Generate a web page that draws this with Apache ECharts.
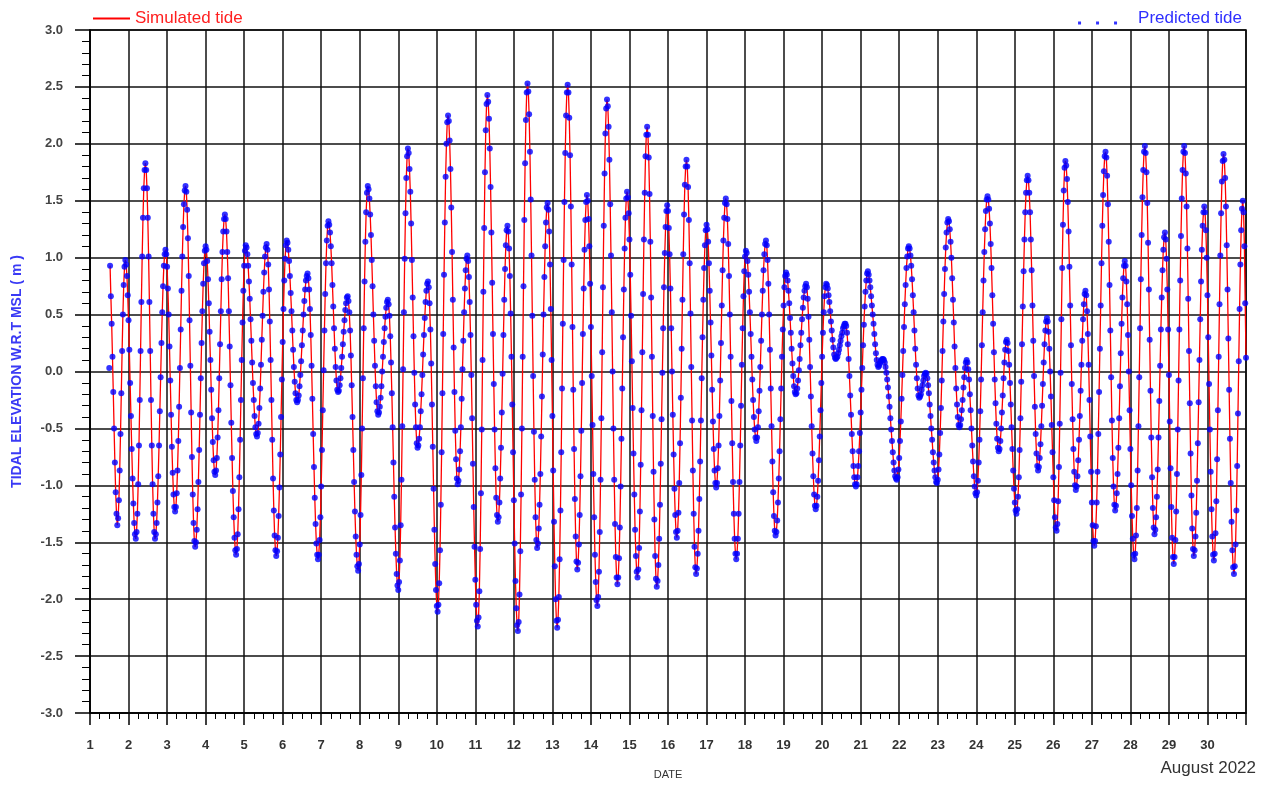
<!DOCTYPE html>
<html><head><meta charset="utf-8">
<script src="https://cdn.jsdelivr.net/npm/echarts@6/dist/echarts.min.js"></script>
<style>html,body{margin:0;padding:0;background:#fff}#c{width:1274px;height:785px}</style>
</head><body><div id="c"></div>
<script>
// time base: first sample Aug 1 12:00, half-hourly samples (x axis = day of August 2022)
const startDay = 1.5;
const stepDays = 1 / 48;
const dayTicks = [1,2,3,4,5,6,7,8,9,10,11,12,13,14,15,16,17,18,19,20,21,22,23,24,25,26,27,28,29,30];

// tidal elevation (m, w.r.t. MSL), consecutive half-hourly samples
const tideSeg01 = [0.03,
0.93,0.66,0.42,0.13,-0.18,-0.50,-0.80,-1.06,-1.25,-1.35,
-1.29,-1.13,-0.87,-0.55,-0.19,0.18,0.50,0.76,0.92,0.98,
0.94,0.84,0.67,0.45,0.19,-0.10,-0.39,-0.68,-0.94,-1.16,-1.33,-1.43,-1.47,
-1.41,-1.25,-0.99,-0.65,-0.25,0.18,0.61,1.01,1.35,1.61,1.77,1.83,
1.77,1.61,1.35,1.01,0.61,0.18,-0.25,-0.65,-0.99,-1.25,-1.41,-1.47,
-1.43,-1.33,-1.15,-0.92,-0.65,-0.35,-0.05,0.25,0.52,0.75,0.93,1.03,1.07,
1.03,0.92,0.73,0.50,0.22,-0.08,-0.38,-0.66,-0.89,-1.08,-1.19,-1.23,
-1.19,-1.07,-0.87,-0.61,-0.31,0.03,0.37,0.71,1.01,1.27,1.47,1.59,1.63,
1.58,1.42,1.17,0.84,0.45,0.05,-0.36,-0.75,-1.08,-1.33,-1.49,-1.54,
-1.50,-1.39,-1.21,-0.97,-0.69,-0.38,-0.06,0.25,0.53,0.77,0.95,1.06,1.10];
const tideSeg02 = [1.07,0.97,0.81,0.60,0.35,0.10,-0.16,-0.41,-0.62,-0.78,-0.88,-0.91,
-0.87,-0.76,-0.58,-0.34,-0.06,0.24,0.53,0.81,1.05,1.23,1.34,1.38,
1.34,1.23,1.05,0.82,0.53,0.22,-0.12,-0.45,-0.76,-1.05,-1.28,-1.46,-1.57,-1.61,
-1.56,-1.43,-1.21,-0.93,-0.60,-0.25,0.10,0.43,0.71,0.93,1.06,1.11,
1.09,1.03,0.93,0.79,0.64,0.46,0.27,0.08,-0.10,-0.25,-0.39,-0.49,-0.55,-0.57,
-0.54,-0.46,-0.32,-0.15,0.06,0.28,0.49,0.70,0.87,1.01,1.09,1.12,
1.07,0.94,0.72,0.44,0.10,-0.25,-0.60,-0.94,-1.22,-1.44,-1.57,-1.62,
-1.58,-1.46,-1.27,-1.02,-0.73,-0.40,-0.07,0.26,0.55,0.80,0.99,1.11,1.15,
1.13,1.07,0.97,0.84,0.69,0.53,0.36,0.19,0.04,-0.09,-0.19,-0.25,-0.27,
-0.25,-0.21,-0.13,-0.03,0.09,0.23,0.36,0.50,0.62,0.72,0.80,0.84,0.86];
const tideSeg03 = [0.82,0.72,0.55,0.32,0.05,-0.24,-0.55,-0.84,-1.11,-1.34,-1.51,-1.61,-1.65,
-1.61,-1.48,-1.28,-1.01,-0.69,-0.34,0.01,0.36,0.68,0.95,1.15,1.28,1.32,
1.29,1.22,1.10,0.95,0.76,0.57,0.38,0.20,0.04,-0.08,-0.16,-0.18,
-0.17,-0.12,-0.06,0.03,0.13,0.24,0.35,0.45,0.54,0.60,0.65,0.66,
0.62,0.52,0.36,0.14,-0.12,-0.40,-0.69,-0.97,-1.23,-1.45,-1.61,-1.71,-1.75,
-1.69,-1.52,-1.26,-0.91,-0.50,-0.06,0.38,0.79,1.14,1.40,1.57,1.63,
1.60,1.52,1.38,1.20,0.98,0.75,0.50,0.27,0.05,-0.13,-0.27,-0.35,-0.38,
-0.36,-0.31,-0.23,-0.13,0.00,0.13,0.26,0.38,0.48,0.56,0.61,0.63,
0.59,0.49,0.31,0.08,-0.19,-0.49,-0.80,-1.10,-1.37,-1.60,-1.78,-1.88,-1.92,
-1.85,-1.66,-1.35,-0.95,-0.48,0.02,0.52,0.99,1.39,1.70,1.89,1.96];
const tideSeg04 = [1.92,1.78,1.58,1.30,0.98,0.65,0.31,-0.01,-0.29,-0.49,-0.63,-0.67,
-0.65,-0.59,-0.49,-0.35,-0.20,-0.03,0.15,0.32,0.47,0.61,0.71,0.77,0.79,
0.74,0.60,0.37,0.07,-0.29,-0.66,-1.03,-1.39,-1.69,-1.92,-2.06,-2.11,
-2.05,-1.86,-1.57,-1.17,-0.71,-0.19,0.33,0.85,1.31,1.71,2.00,2.19,2.25,
2.20,2.03,1.78,1.44,1.05,0.63,0.21,-0.18,-0.52,-0.77,-0.94,-0.99,
-0.96,-0.86,-0.70,-0.49,-0.24,0.02,0.27,0.52,0.73,0.89,0.99,1.02,
0.97,0.83,0.61,0.32,-0.03,-0.41,-0.81,-1.19,-1.54,-1.83,-2.05,-2.19,-2.24,
-2.16,-1.93,-1.56,-1.07,-0.51,0.10,0.70,1.26,1.75,2.12,2.35,2.43,
2.37,2.22,1.96,1.62,1.22,0.78,0.33,-0.11,-0.51,-0.85,-1.11,-1.26,-1.32,
-1.28,-1.15,-0.94,-0.67,-0.36,-0.02,0.32,0.63,0.90,1.11,1.24,1.28];
const tideSeg05 = [1.23,1.08,0.84,0.51,0.13,-0.29,-0.71,-1.13,-1.51,-1.84,-2.08,-2.23,-2.28,
-2.20,-1.96,-1.58,-1.08,-0.50,0.13,0.75,1.33,1.83,2.21,2.45,2.53,
2.46,2.26,1.93,1.51,1.02,0.49,-0.04,-0.53,-0.95,-1.28,-1.48,-1.55,
-1.51,-1.38,-1.17,-0.90,-0.57,-0.22,0.15,0.50,0.83,1.10,1.31,1.44,1.48,
1.42,1.23,0.94,0.55,0.10,-0.39,-0.87,-1.32,-1.71,-2.00,-2.19,-2.25,
-2.18,-1.98,-1.65,-1.22,-0.71,-0.15,0.42,0.98,1.49,1.92,2.25,2.45,2.52,
2.45,2.23,1.90,1.45,0.94,0.39,-0.16,-0.68,-1.12,-1.45,-1.67,-1.74,
-1.68,-1.52,-1.26,-0.92,-0.52,-0.10,0.33,0.73,1.07,1.33,1.49,1.55,
1.50,1.34,1.10,0.77,0.39,-0.04,-0.47,-0.90,-1.28,-1.61,-1.85,-2.01,-2.06,
-1.98,-1.76,-1.41,-0.95,-0.41,0.17,0.74,1.28,1.74,2.09,2.31,2.39];
const tideSeg06 = [2.33,2.15,1.86,1.47,1.02,0.52,0.00,-0.50,-0.95,-1.34,-1.63,-1.81,-1.87,
-1.81,-1.64,-1.37,-1.01,-0.59,-0.15,0.30,0.72,1.08,1.35,1.52,1.58,
1.53,1.39,1.16,0.85,0.49,0.09,-0.32,-0.72,-1.08,-1.39,-1.62,-1.76,-1.81,
-1.74,-1.55,-1.23,-0.82,-0.34,0.17,0.68,1.16,1.57,1.89,2.08,2.15,
2.08,1.88,1.56,1.14,0.65,0.13,-0.39,-0.88,-1.30,-1.62,-1.82,-1.89,
-1.84,-1.70,-1.47,-1.17,-0.81,-0.42,-0.01,0.38,0.74,1.04,1.27,1.41,1.46,
1.41,1.26,1.03,0.73,0.38,0.00,-0.38,-0.73,-1.03,-1.26,-1.41,-1.46,
-1.40,-1.24,-0.98,-0.63,-0.23,0.20,0.63,1.03,1.38,1.64,1.80,1.86,
1.80,1.62,1.33,0.95,0.51,0.04,-0.43,-0.87,-1.25,-1.54,-1.72,-1.78,
-1.73,-1.60,-1.40,-1.12,-0.79,-0.43,-0.06,0.30,0.63,0.91,1.11,1.24,1.29];
const tideSeg07 = [1.25,1.14,0.95,0.71,0.43,0.14,-0.16,-0.44,-0.68,-0.87,-0.98,-1.02,
-0.98,-0.85,-0.65,-0.39,-0.08,0.25,0.58,0.89,1.15,1.35,1.48,1.52,
1.47,1.34,1.12,0.84,0.50,0.13,-0.26,-0.63,-0.97,-1.25,-1.47,-1.60,-1.65,
-1.60,-1.47,-1.25,-0.97,-0.65,-0.30,0.06,0.38,0.66,0.88,1.01,1.06,
1.04,0.97,0.85,0.70,0.52,0.33,0.13,-0.07,-0.25,-0.40,-0.51,-0.58,-0.61,
-0.58,-0.49,-0.35,-0.17,0.04,0.27,0.50,0.71,0.89,1.03,1.12,1.15,
1.11,0.98,0.77,0.50,0.19,-0.15,-0.48,-0.79,-1.06,-1.27,-1.40,-1.44,
-1.41,-1.31,-1.15,-0.94,-0.70,-0.42,-0.15,0.13,0.37,0.58,0.74,0.84,0.87,
0.85,0.80,0.71,0.60,0.47,0.34,0.20,0.07,-0.04,-0.13,-0.18,-0.20,
-0.19,-0.15,-0.08,0.01,0.11,0.23,0.34,0.46,0.56,0.65,0.71,0.75,0.77];
const tideSeg08 = [0.74,0.64,0.48,0.28,0.04,-0.22,-0.48,-0.72,-0.92,-1.08,-1.18,-1.21,
-1.18,-1.10,-0.96,-0.78,-0.57,-0.34,-0.10,0.13,0.34,0.52,0.66,0.74,0.77,
0.76,0.73,0.67,0.61,0.53,0.44,0.36,0.28,0.21,0.15,0.12,0.11,
0.12,0.13,0.16,0.19,0.23,0.27,0.31,0.34,0.38,0.40,0.42,0.42,
0.40,0.34,0.24,0.11,-0.04,-0.21,-0.38,-0.55,-0.70,-0.83,-0.93,-0.99,-1.01,
-0.99,-0.93,-0.83,-0.70,-0.54,-0.36,-0.16,0.03,0.23,0.41,0.57,0.70,0.80,0.86,0.88,
0.85,0.80,0.74,0.66,0.58,0.50,0.42,0.33,0.24,0.16,0.10,0.06,0.04,
0.05,0.07,0.09,0.10,0.11,0.11,
0.10,0.08,0.04,-0.01,-0.07,-0.14,-0.22,-0.31,-0.41,-0.51,-0.61,-0.71,-0.80,-0.87,-0.92,-0.94,-0.95,
-0.93,-0.86,-0.76,-0.61,-0.44,-0.24,-0.03,0.18,0.39,0.59,0.76,0.91,1.01,1.08,1.10];
const tideSeg09 = [1.08,1.02,0.93,0.81,0.67,0.52,0.36,0.20,0.06,-0.06,-0.15,-0.21,-0.23,
-0.22,-0.20,-0.16,-0.12,-0.08,-0.04,-0.02,-0.01,
-0.02,-0.06,-0.12,-0.19,-0.29,-0.39,-0.50,-0.60,-0.71,-0.80,-0.87,-0.93,-0.97,-0.98,
-0.95,-0.86,-0.73,-0.54,-0.32,-0.08,0.18,0.44,0.68,0.90,1.09,1.22,1.31,1.34,
1.32,1.25,1.14,1.00,0.82,0.63,0.43,0.22,0.03,-0.15,-0.29,-0.40,-0.47,-0.49,
-0.47,-0.42,-0.34,-0.25,-0.14,-0.05,0.03,0.08,0.10,
0.08,0.02,-0.07,-0.20,-0.34,-0.50,-0.65,-0.79,-0.92,-1.01,-1.07,-1.09,
-1.06,-0.96,-0.80,-0.60,-0.35,-0.07,0.23,0.52,0.80,1.05,1.25,1.41,1.51,1.54,
1.51,1.43,1.30,1.12,0.91,0.67,0.42,0.17,-0.07,-0.28,-0.46,-0.59,-0.67,-0.70,
-0.68,-0.61,-0.50,-0.36,-0.21,-0.06,0.08,0.19,0.26,0.28];
const tideSeg10 = [0.25,0.18,0.06,-0.10,-0.29,-0.49,-0.68,-0.87,-1.03,-1.15,-1.22,-1.25,
-1.21,-1.10,-0.93,-0.69,-0.41,-0.09,0.24,0.57,0.88,1.16,1.40,1.57,1.68,1.72,
1.68,1.57,1.40,1.16,0.89,0.58,0.27,-0.04,-0.31,-0.55,-0.72,-0.83,-0.87,
-0.84,-0.76,-0.64,-0.48,-0.30,-0.11,0.08,0.24,0.36,0.44,0.47,
0.44,0.35,0.20,0.00,-0.22,-0.47,-0.71,-0.93,-1.13,-1.28,-1.37,-1.40,
-1.34,-1.14,-0.84,-0.46,-0.01,0.46,0.91,1.29,1.59,1.79,1.85,
1.81,1.69,1.49,1.23,0.92,0.58,0.23,-0.11,-0.42,-0.68,-0.88,-1.00,-1.04,
-1.01,-0.92,-0.78,-0.60,-0.39,-0.17,0.06,0.27,0.46,0.59,0.68,0.71,
0.67,0.53,0.33,0.06,-0.25,-0.57,-0.88,-1.15,-1.35,-1.49,-1.53,
-1.49,-1.36,-1.15,-0.88,-0.55,-0.18,0.20,0.58,0.95,1.28,1.55,1.76,1.89,1.93];
const tideSeg11 = [1.88,1.72,1.47,1.14,0.76,0.36,-0.05,-0.43,-0.76,-1.01,-1.17,-1.22,
-1.18,-1.07,-0.90,-0.67,-0.41,-0.13,0.16,0.42,0.65,0.82,0.93,0.97,
0.93,0.79,0.59,0.32,0.00,-0.34,-0.68,-1.00,-1.27,-1.47,-1.61,-1.65,
-1.60,-1.44,-1.20,-0.87,-0.48,-0.05,0.38,0.81,1.20,1.53,1.77,1.93,1.98,
1.92,1.75,1.48,1.13,0.72,0.28,-0.17,-0.58,-0.93,-1.20,-1.37,-1.43,
-1.39,-1.28,-1.10,-0.86,-0.58,-0.26,0.05,0.37,0.65,0.89,1.07,1.18,1.22,
1.16,0.99,0.72,0.37,-0.03,-0.44,-0.85,-1.19,-1.46,-1.63,-1.69,
-1.63,-1.48,-1.23,-0.90,-0.51,-0.08,0.37,0.80,1.19,1.52,1.77,1.93,1.98,
1.92,1.74,1.45,1.08,0.64,0.18,-0.28,-0.72,-1.09,-1.38,-1.56,-1.62,
-1.57,-1.45,-1.24,-0.96,-0.63,-0.27,0.10,0.46,0.79,1.07,1.28,1.40,1.45];
const tideSeg12 = [1.40,1.24,1.00,0.67,0.30,-0.11,-0.51,-0.88,-1.21,-1.45,-1.61,-1.66,
-1.60,-1.42,-1.14,-0.77,-0.34,0.13,0.59,1.02,1.39,1.67,1.85,1.91,
1.86,1.70,1.45,1.11,0.72,0.29,-0.16,-0.59,-0.98,-1.32,-1.57,-1.72,-1.78,
-1.71,-1.52,-1.22,-0.83,-0.37,0.09,0.55,0.94,1.24,1.43,1.50,
1.40,1.10,0.60,0.12];

const predictedTide = [].concat(tideSeg01, tideSeg02, tideSeg03, tideSeg04, tideSeg05, tideSeg06,
  tideSeg07, tideSeg08, tideSeg09, tideSeg10, tideSeg11, tideSeg12);
const predictedPts = predictedTide.map((v, i) => [startDay + i * stepDays, v]);
const simulatedPts = predictedPts.slice(1);

const chart = echarts.init(document.getElementById('c'), null, { renderer: 'canvas' });
const FONT = 'Liberation Sans, Arial, sans-serif';
chart.setOption({
  animation: false,
  backgroundColor: '#ffffff',
  grid: { left: 90, right: 28, top: 30, bottom: 72, show: true, borderColor: '#000', borderWidth: 1.5, backgroundColor: 'transparent' },
  legend: [
    { data: [{ name: 'Simulated tide', icon: 'rect' }], left: 93, top: 10, padding: 0, itemWidth: 37, itemHeight: 2, selectedMode: false,
      textStyle: { color: '#ff1f1f', fontSize: 17, fontFamily: FONT } },
    { data: [{ name: 'Predicted tide', icon: 'path://M0,9h3v3h-3zM18,9h3v3h-3zM36,9h3v3h-3zM55,0h0.01v0.01h-0.01z' }],
      right: 32, top: 10, padding: 0, itemWidth: 55, itemHeight: 12, selectedMode: false,
      textStyle: { color: '#2f2fff', fontSize: 17, fontFamily: FONT } }
  ],
  xAxis: {
    type: 'value', min: 1, max: 31, interval: 1,
    name: 'DATE', nameLocation: 'middle', nameGap: 56,
    nameTextStyle: { color: '#333', fontSize: 11, fontFamily: FONT },
    axisLine: { show: true, onZero: false, lineStyle: { color: '#000', width: 1.5 } },
    axisTick: { show: true, length: 12, lineStyle: { color: '#000', width: 1.5 } },
    minorTick: { show: true, splitNumber: 4, length: 6, lineStyle: { color: '#000', width: 1 } },
    axisLabel: { margin: 26, color: '#333', fontSize: 13, fontWeight: 'bold', fontFamily: FONT,
      formatter: v => dayTicks.includes(v) ? String(v) : '' },
    splitLine: { show: true, lineStyle: { color: '#111', width: 1.5 } }
  },
  yAxis: {
    type: 'value', min: -3, max: 3, interval: 0.5,
    name: 'TIDAL ELEVATION W.R.T MSL ( m )', nameLocation: 'middle', nameGap: 66, nameRotate: 90,
    nameTextStyle: { color: '#3a3af5', fontSize: 14, fontWeight: 'bold', fontFamily: FONT },
    axisLine: { show: true, onZero: false, lineStyle: { color: '#000', width: 1.5 } },
    axisTick: { show: true, length: 15, lineStyle: { color: '#000', width: 1.5 } },
    minorTick: { show: true, splitNumber: 5, length: 8, lineStyle: { color: '#000', width: 1 } },
    axisLabel: { margin: 27, color: '#444', fontSize: 13, fontWeight: 'bold', fontFamily: FONT,
      formatter: v => v.toFixed(1) },
    splitLine: { show: true, lineStyle: { color: '#111', width: 1.5 } }
  },
  graphic: [
    { type: 'text', right: 18, top: 760, style: { text: 'August 2022', fill: '#333', font: '17px ' + FONT } }
  ],
  series: [
    { name: 'Simulated tide', type: 'line', data: simulatedPts, showSymbol: false, z: 2,
      lineStyle: { color: '#ff0000', width: 1.3 }, itemStyle: { color: '#ff0000' } },
    { name: 'Predicted tide', type: 'scatter', data: predictedPts, symbolSize: 6, z: 3,
      itemStyle: { color: '#0000ff' } }
  ]
});
</script></body></html>
